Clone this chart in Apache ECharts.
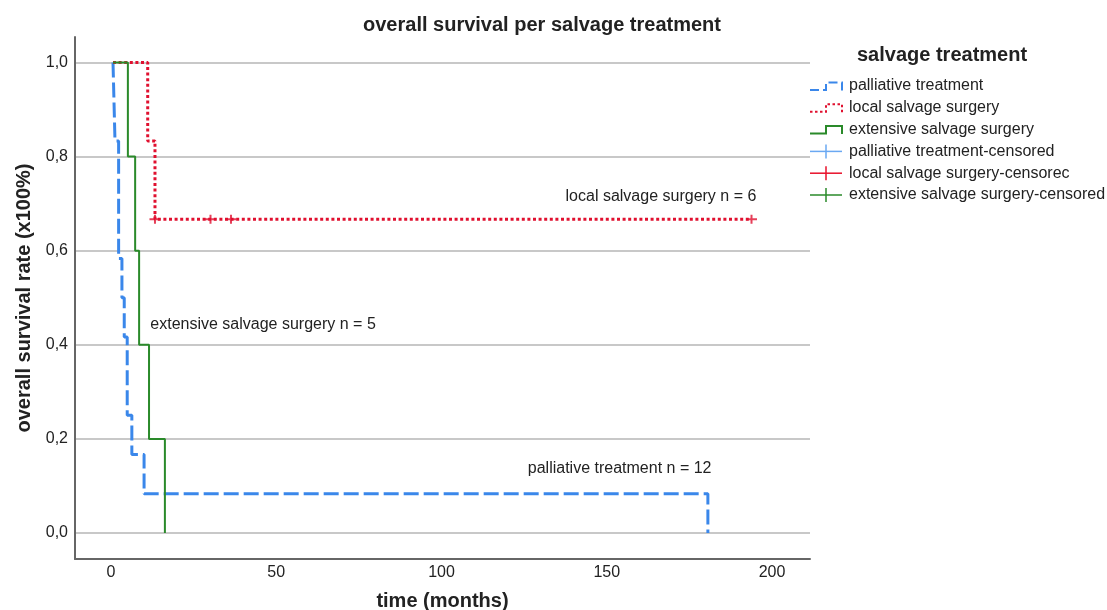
<!DOCTYPE html>
<html>
<head>
<meta charset="utf-8">
<script src="https://cdn.jsdelivr.net/npm/echarts@6/dist/echarts.min.js"></script>
<style>
html,body{margin:0;padding:0;background:#fff;}
#chart{width:1107px;height:610px;}
</style>
</head>
<body>
<div id="chart"></div>
<script>
// ---- data ----
var seriesNames = ['palliative treatment', 'local salvage surgery', 'extensive salvage surgery'];
var censoredNames = ['palliative treatment-censored', 'local salvage surgery-censorec', 'extensive salvage surgery-censored'];
// Kaplan-Meier steps: [time (months), survival after event]
var palliativeSteps = [[0.6, 1], [1.2, 0.8333], [2.3, 0.5833], [3.3, 0.5], [4.0, 0.4167], [4.9, 0.25], [6.3, 0.1667], [10.0, 0.0833], [180.6, 0]];
var localSteps = [[0.6, 1], [11.1, 0.8333], [13.3, 0.6667], [193.8, 0.6667]];
var extensiveSteps = [[0.6, 1], [5.1, 0.8], [7.3, 0.6], [8.5, 0.4], [11.5, 0.2], [16.3, 0]];
var localCensored = [[13.3, 0.6667], [30.1, 0.6667], [36.3, 0.6667], [193.8, 0.6667]];
var xTicks = [0, 50, 100, 150, 200];
var yTicks = [0, 0.2, 0.4, 0.6, 0.8, 1.0];
var annotations = [
  {text: 'local salvage surgery n = 6', coord: [166.4, 0.716]},
  {text: 'extensive salvage surgery n = 5', coord: [46.0, 0.442]},
  {text: 'palliative treatment n = 12', coord: [153.9, 0.136]}
];

var FONT = "'Liberation Sans', Arial, sans-serif";
var BLUE = '#3a87ea', RED = '#e0102f', GREEN = '#2a8a2a';
var plusPath = 'path://M0,3.5 L11,3.5 L11,5.5 L0,5.5 Z M4.5,0 L6.5,0 L6.5,9 L4.5,9 Z';

function annot(a) {
  return {
    symbol: 'circle', symbolSize: 0, silent: true,
    itemStyle: {color: 'rgba(0,0,0,0)'},
    label: {show: true, position: 'inside', color: '#222', fontSize: 16, fontFamily: FONT, formatter: a.text},
    data: [{coord: a.coord, value: a.text}]
  };
}

var chart = echarts.init(document.getElementById('chart'));

// legend drawn with graphic elements
var legendX = 810, legendTop = 86, rowH = 21.8;
var legendGraphic = [
  {type: 'text', left: 857, top: 45, style: {text: 'salvage treatment', font: 'bold 20px ' + FONT, fill: '#222'}}
];
var stepIcons = [
  {color: BLUE, dash: [9, 4], w: 2},
  {color: RED, dash: [2.5, 2.5], w: 2},
  {color: GREEN, dash: null, w: 2}
];
stepIcons.forEach(function (ic, i) {
  var cy = legendTop + i * rowH;
  legendGraphic.push({
    type: 'polyline',
    shape: {points: [[legendX, cy + 4], [legendX + 16, cy + 4], [legendX + 16, cy - 3.5], [legendX + 32, cy - 3.5], [legendX + 32, cy + 4.5]]},
    style: {stroke: ic.color, lineWidth: ic.w, lineDash: ic.dash, fill: null}
  });
  legendGraphic.push({type: 'text', x: 849, y: cy, style: {text: seriesNames[i], font: '16px ' + FONT, fill: '#222', verticalAlign: 'middle'}});
});
var censColors = ['#6aa8f2', '#e8102a', GREEN];
censColors.forEach(function (c, j) {
  var cy = legendTop + (j + 3) * rowH;
  legendGraphic.push({type: 'line', shape: {x1: legendX, y1: cy, x2: legendX + 32, y2: cy}, style: {stroke: c, lineWidth: 1.5}});
  legendGraphic.push({type: 'line', shape: {x1: legendX + 16, y1: cy - 7, x2: legendX + 16, y2: cy + 7}, style: {stroke: c, lineWidth: 1.5}});
  legendGraphic.push({type: 'text', x: 849, y: cy, style: {text: censoredNames[j], font: '16px ' + FONT, fill: '#222', verticalAlign: 'middle'}});
});

var option = {
  animation: false,
  backgroundColor: '#fff',
  title: {
    text: 'overall survival per salvage treatment',
    left: 537, top: 10, textAlign: 'center',
    textStyle: {fontFamily: FONT, fontSize: 20, fontWeight: 'bold', color: '#222'}
  },
  grid: {left: 75, right: 297, top: 37, bottom: 51, containLabel: false, outerBoundsMode: 'none'},
  xAxis: {
    type: 'value', min: -10.9, max: 211.5,
    name: 'time (months)', nameLocation: 'middle', nameGap: 32,
    nameTextStyle: {fontFamily: FONT, fontSize: 20, fontWeight: 'bold', color: '#222'},
    axisLine: {show: true, onZero: false, lineStyle: {color: '#666', width: 2}},
    axisTick: {show: false, customValues: xTicks},
    axisLabel: {customValues: xTicks, margin: 6, fontFamily: FONT, fontSize: 16, color: '#222'},
    splitLine: {show: false}
  },
  yAxis: {
    type: 'value', min: -0.0553, max: 1.0542,
    name: 'overall survival rate (x100%)', nameLocation: 'middle', nameGap: 41,
    nameTextStyle: {fontFamily: FONT, fontSize: 20, fontWeight: 'bold', color: '#222'},
    axisLine: {show: true, onZero: false, lineStyle: {color: '#666', width: 2}},
    axisTick: {show: false, customValues: yTicks},
    axisLabel: {
      customValues: yTicks, margin: 7, fontFamily: FONT, fontSize: 16, color: '#222',
      formatter: function (v) { return v.toFixed(1).replace('.', ','); }
    },
    splitLine: {show: true, lineStyle: {color: '#c8c8c8', width: 2}}
  },
  graphic: legendGraphic,
  series: [
    {
      name: seriesNames[0], type: 'line', step: 'end', symbol: 'none', data: palliativeSteps, z: 2,
      lineStyle: {color: BLUE, width: 3, type: [15, 5]},
      markPoint: annot(annotations[2])
    },
    {
      name: seriesNames[1], type: 'line', step: 'end', symbol: 'none', data: localSteps, z: 3,
      lineStyle: {color: RED, width: 3, type: [3, 2.6]},
      markPoint: annot(annotations[0])
    },
    {
      name: seriesNames[2], type: 'line', step: 'end', symbol: 'none', data: extensiveSteps, z: 4,
      lineStyle: {color: GREEN, width: 2, type: 'solid'},
      markPoint: annot(annotations[1])
    },
    {
      name: censoredNames[1], type: 'scatter', data: localCensored, z: 5,
      symbol: plusPath, symbolSize: [11, 9], itemStyle: {color: RED}
    }
  ]
};
chart.setOption(option);
</script>
</body>
</html>
